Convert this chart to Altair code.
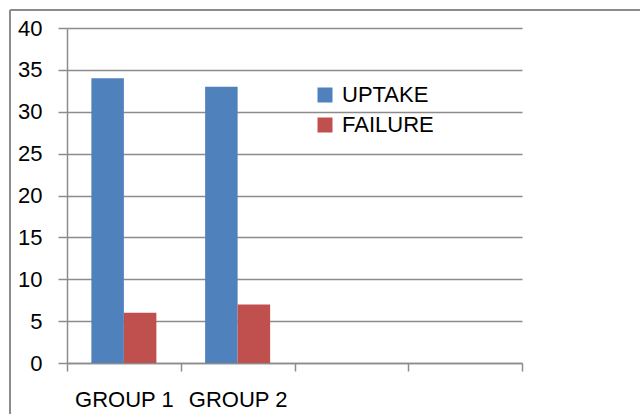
import altair as alt
import pandas as pd

categories = ["GROUP 1", "GROUP 2", " ", "  "]
groups = ["GROUP 1", "GROUP 2"]
series = ["UPTAKE", "FAILURE"]
uptake = [34, 33]
failure = [6, 7]
colors = ["#4F81BD", "#C0504D"]
y_ticks = [0, 5, 10, 15, 20, 25, 30, 35, 40]

rows = []
for g, u, f in zip(groups, uptake, failure):
    rows.append({"group": g, "series": "UPTAKE", "value": u})
    rows.append({"group": g, "series": "FAILURE", "value": f})
df = pd.DataFrame(rows)

GRAY = "#8c8c8c"
FONT = "Liberation Sans"

bars = alt.Chart(df).mark_bar().encode(
    x=alt.X("group:N", sort=categories,
            scale=alt.Scale(domain=categories, paddingInner=0, paddingOuter=0),
            axis=alt.Axis(title=None, labelAngle=0, tickBand="extent", tickSize=8,
                          tickColor=GRAY, tickWidth=1.5, domainColor=GRAY, domainWidth=1.5,
                          labelFontSize=22, labelColor="black", labelPadding=18,
                          labelFont=FONT, grid=False)),
    xOffset=alt.XOffset("series:N", sort=series,
                        scale=alt.Scale(domain=series, paddingInner=0, paddingOuter=0.75)),
    y=alt.Y("value:Q", scale=alt.Scale(domain=[0, 40], nice=False),
            axis=alt.Axis(title=None, values=y_ticks, tickSize=9, tickColor=GRAY, tickWidth=1.5,
                          domainColor=GRAY, domainWidth=1.5, grid=True, gridColor=GRAY,
                          gridWidth=1.5, labelFontSize=22, labelColor="black",
                          labelPadding=16, labelFont=FONT)),
    color=alt.Color("series:N", sort=series,
                    scale=alt.Scale(domain=series, range=colors),
                    legend=alt.Legend(title=None, orient="none", legendX=247, legendY=56,
                                      symbolType="square", symbolSize=225, symbolStrokeWidth=0,
                                      labelFontSize=22, labelFont=FONT, labelColor="black",
                                      labelOffset=6, rowPadding=8)),
)

frame_df = pd.DataFrame({"k": [0]})
left_rule = alt.Chart(frame_df).mark_rule(color=GRAY, strokeWidth=2).encode(
    x=alt.value(-57), y=alt.value(-18), y2=alt.value(400))
top_rule = alt.Chart(frame_df).mark_rule(color=GRAY, strokeWidth=2).encode(
    x=alt.value(-57), x2=alt.value(600), y=alt.value(-18))

chart = alt.layer(bars, left_rule, top_rule).properties(
    width=455, height=335,
    padding={"left": 67, "top": 28, "right": 118, "bottom": 51},
    autosize=alt.AutoSizeParams(type="none"),
    background="white",
).configure_view(stroke=None)

chart.save("out.html", embed_options={"renderer": "svg", "actions": False})
